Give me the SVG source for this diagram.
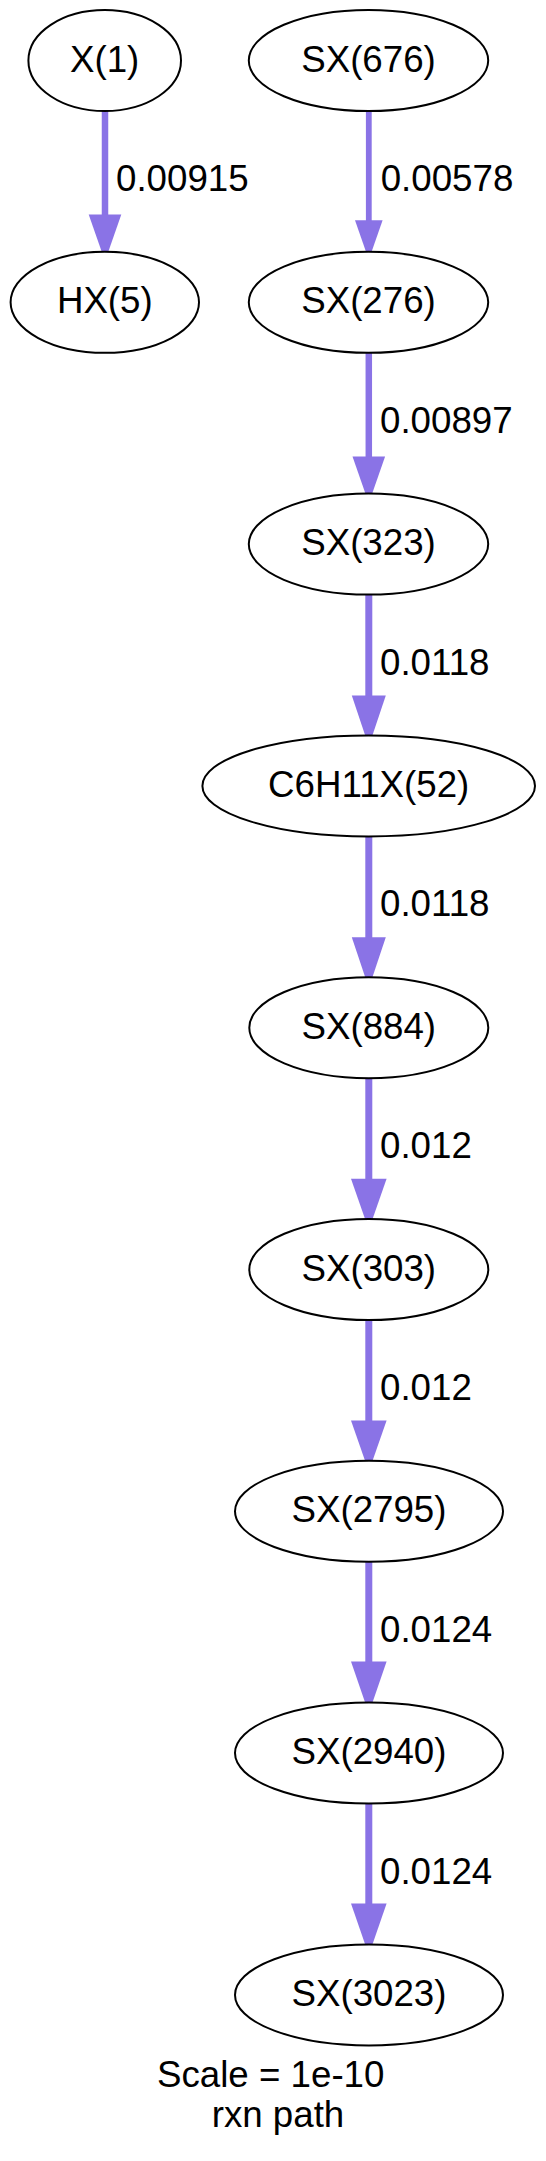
<svg xmlns="http://www.w3.org/2000/svg" width="546" height="2161" viewBox="0 0 546 2161">
<style>
.node ellipse{fill:#ffffff;stroke:#000000;stroke-width:2}
.node text{font-family:"Liberation Sans",Arial,Helvetica,sans-serif;font-size:36.7px;fill:#000000;text-anchor:middle}
.edge line{stroke:#8A73E6;fill:none}
.edge polygon{fill:#8A73E6;stroke:none}
.elabel{font-family:"Liberation Sans",Arial,Helvetica,sans-serif;font-size:36.7px;fill:#000000;text-anchor:start}
.cap{font-family:"Liberation Sans",Arial,Helvetica,sans-serif;font-size:36.7px;fill:#000000;text-anchor:start}
</style>
<rect x="0" y="0" width="546" height="2161" fill="#ffffff"/>
<g id="connectors">
  <g class="edge" id="e_X1_HX5">
    <line x1="105" y1="111" x2="105" y2="216" stroke-width="6.5"/>
    <polygon points="88.7,214.5 121.3,214.5 105,261.2"/>
    <text class="elabel" x="116" y="191">0.00915</text>
  </g>
  <g class="edge" id="e_676_276">
    <line x1="368.8" y1="111" x2="368.8" y2="222" stroke-width="5.8"/>
    <polygon points="355,220.2 382.6,220.2 368.8,259.8"/>
    <text class="elabel" x="380.7" y="191">0.00578</text>
  </g>
  <g class="edge" id="e_276_323">
    <line x1="368.8" y1="352.8" x2="368.8" y2="458" stroke-width="6.5"/>
    <polygon points="352.5,456.6 385.1,456.6 368.8,503.3"/>
    <text class="elabel" x="380" y="432.7">0.00897</text>
  </g>
  <g class="edge" id="e_323_52">
    <line x1="368.8" y1="594.6" x2="368.8" y2="697" stroke-width="7"/>
    <polygon points="351.8,695.4 385.8,695.4 368.8,746.2"/>
    <text class="elabel" x="380" y="674.5">0.0118</text>
  </g>
  <g class="edge" id="e_52_884">
    <line x1="368.8" y1="836.4" x2="368.8" y2="939" stroke-width="7"/>
    <polygon points="351.8,937.2 385.8,937.2 368.8,988"/>
    <text class="elabel" x="380" y="916.3">0.0118</text>
  </g>
  <g class="edge" id="e_884_303">
    <line x1="368.8" y1="1078.2" x2="368.8" y2="1180.5" stroke-width="7"/>
    <polygon points="351,1178.7 386.6,1178.7 368.8,1229.7"/>
    <text class="elabel" x="380" y="1158.1">0.012</text>
  </g>
  <g class="edge" id="e_303_2795">
    <line x1="368.8" y1="1320" x2="368.8" y2="1422.3" stroke-width="7"/>
    <polygon points="351,1420.5 386.6,1420.5 368.8,1471.5"/>
    <text class="elabel" x="380" y="1399.9">0.012</text>
  </g>
  <g class="edge" id="e_2795_2940">
    <line x1="368.8" y1="1561.8" x2="368.8" y2="1663.5" stroke-width="7"/>
    <polygon points="351,1661.6 386.6,1661.6 368.8,1713.3"/>
    <text class="elabel" x="380" y="1641.7">0.0124</text>
  </g>
  <g class="edge" id="e_2940_3023">
    <line x1="368.8" y1="1803.6" x2="368.8" y2="1905.3" stroke-width="7"/>
    <polygon points="351,1903.4 386.6,1903.4 368.8,1955.1"/>
    <text class="elabel" x="380" y="1883.5">0.0124</text>
  </g>
</g>
<g class="node" id="n_X1"><ellipse cx="104.7" cy="60.5" rx="76.3" ry="50.5"/><text x="104.7" y="71.5">X(1)</text></g>
<g class="node" id="n_HX5"><ellipse cx="104.8" cy="302.3" rx="94.2" ry="50.5"/><text x="104.8" y="313.3">HX(5)</text></g>
<g class="node" id="n_SX676"><ellipse cx="368.5" cy="60.5" rx="119.7" ry="50.5"/><text x="368.5" y="71.5">SX(676)</text></g>
<g class="node" id="n_SX276"><ellipse cx="368.5" cy="302.3" rx="119.7" ry="50.5"/><text x="368.5" y="313.3">SX(276)</text></g>
<g class="node" id="n_SX323"><ellipse cx="368.5" cy="544.1" rx="119.7" ry="50.5"/><text x="368.5" y="555.1">SX(323)</text></g>
<g class="node" id="n_C6H11X52"><ellipse cx="368.7" cy="785.9" rx="166.3" ry="50.5"/><text x="368.7" y="796.9">C6H11X(52)</text></g>
<g class="node" id="n_SX884"><ellipse cx="368.8" cy="1027.7" rx="119.5" ry="50.5"/><text x="368.8" y="1038.7">SX(884)</text></g>
<g class="node" id="n_SX303"><ellipse cx="368.8" cy="1269.5" rx="119.5" ry="50.5"/><text x="368.8" y="1280.5">SX(303)</text></g>
<g class="node" id="n_SX2795"><ellipse cx="369" cy="1511.3" rx="134" ry="50.5"/><text x="369" y="1522.3">SX(2795)</text></g>
<g class="node" id="n_SX2940"><ellipse cx="369" cy="1753.1" rx="134" ry="50.5"/><text x="369" y="1764.1">SX(2940)</text></g>
<g class="node" id="n_SX3023"><ellipse cx="369" cy="1994.9" rx="134" ry="50.5"/><text x="369" y="2005.9">SX(3023)</text></g>
<g id="caption">
  <text class="cap" x="157" y="2086.5">Scale = 1e-10</text>
  <text class="cap" x="211.7" y="2126.7">rxn path</text>
</g>
</svg>
